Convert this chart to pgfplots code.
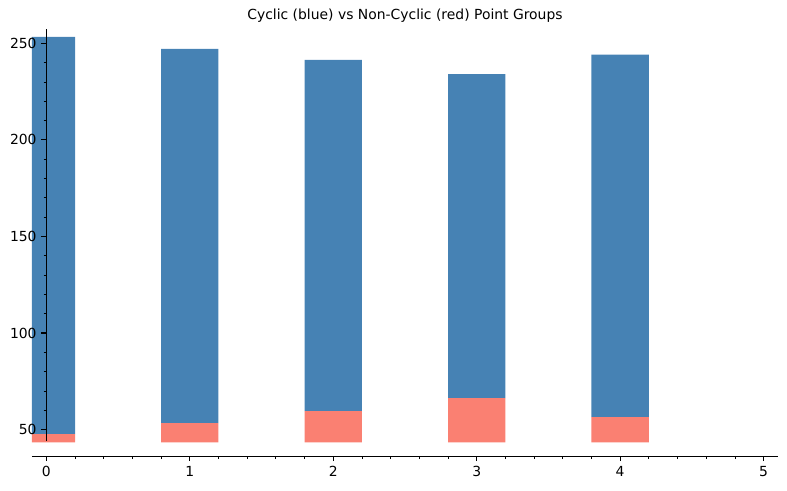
\documentclass[border=0pt]{standalone}
\usepackage{pgfplots}
\pgfplotsset{compat=1.18}
\usepackage{fontspec}
\setmainfont{DejaVu Sans}
\definecolor{steelblue}{HTML}{4682B4}
\definecolor{salmon}{HTML}{FA8072}
\begin{document}
\begin{tikzpicture}
\begin{axis}[
  name=ax,
  scale only axis,
  width=536.6pt, height=307.2pt,
  xmin=-0.1, xmax=5.1, ymin=36.2, ymax=257.3,
  axis x line=bottom, axis y line=middle,
  x axis line style={-}, y axis line style={-, shorten <=11.3pt},
  axis line style={line width=0.8pt},
  hide obscured x ticks=false, hide obscured y ticks=false,
  xtick={0,1,2,3,4,5}, ytick={50,100,150,200,250},
  minor x tick num=4, minor y tick num=4,
  tick align=outside,
  major tick length=3.5pt, minor tick length=2pt,
  every tick/.style={black, line width=0.8pt},
  minor tick style={line width=0.6pt},
  tick label style={font=\fontsize{10}{12}\selectfont},
  /pgf/number format/assume math mode=true,
  title={Cyclic (blue) vs Non-Cyclic (red) Point Groups},
  title style={font=\fontsize{10}{12}\selectfont, yshift=-4.5pt},
  ybar stacked, bar width=0.4,
  axis on top,
]
\addplot[draw=none, fill=none, bar shift=0pt] coordinates {(0,43.4) (1,43.4) (2,43.4) (3,43.4) (4,43.4)};
\addplot[draw=none, fill=salmon, bar shift=0pt] coordinates {(0,4.2) (1,9.9) (2,16.2) (3,22.9) (4,13.0)};
\addplot[draw=none, fill=steelblue, bar shift=0pt] coordinates {(0,205.7) (1,193.8) (2,181.8) (3,167.8) (4,187.7)};
\end{axis}
\path ([shift={(-23pt,-24.5pt)}]ax.south west) rectangle ([shift={(6.5pt,21pt)}]ax.north east);
\end{tikzpicture}
\end{document}
